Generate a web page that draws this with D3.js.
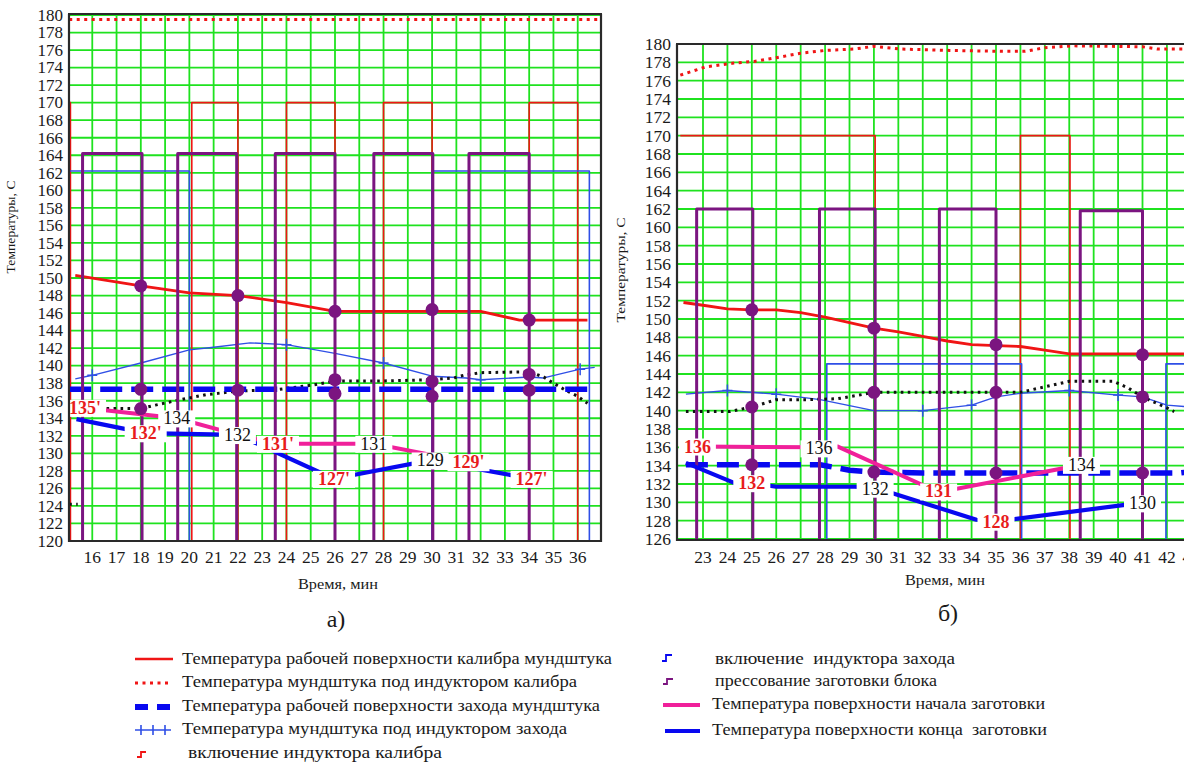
<!DOCTYPE html>
<html><head><meta charset="utf-8">
<script src="https://cdn.jsdelivr.net/npm/d3@7"></script>
<style>
body{margin:0;background:#fff}
svg{display:block}
svg text{font-family:"Liberation Serif","Tinos","Times New Roman","DejaVu Serif",serif;white-space:pre}
</style>
</head><body>
<svg id="c" width="1184" height="767" font-family="Liberation Serif, Tinos, Times New Roman, DejaVu Serif, serif"></svg>
<script>
// ================= DATA =================
// ---- panel а) ----
const xTicksA = [16,17,18,19,20,21,22,23,24,25,26,27,28,29,30,31,32,33,34,35,36];
const yTicksA = [120,122,124,126,128,130,132,134,136,138,140,142,144,146,148,150,152,154,156,158,160,162,164,166,168,170,172,174,176,178,180];

const tA_calibr = [15.3, 18, 20, 22, 24, 26, 28, 30, 32, 33.6, 34, 36.4];
const vA_calibr = [150.3, 149.1, 148.3, 148, 147.2, 146.2, 146.2, 146.2, 146.2, 145.2, 145.2, 145.2];

const tA_indK = [15.05, 36.9];
const vA_indK = [179.5, 179.5];

const tA_surfZ = [15.05, 36.5];
const vA_surfZ = [137.3, 137.3];

const tA_indZ = [15.3, 16, 18, 20, 21, 22.5, 24, 26, 28, 30, 31.4, 32, 34, 34.6, 36.1, 36.7];
const vA_indZ = [138.5, 138.9, 140.3, 141.8, 142.1, 142.6, 142.4, 141.4, 140.3, 138.8, 138.6, 138.4, 138.7, 138.6, 139.6, 139.8];
const tA_plus = [16, 24, 28, 32, 36.1];
const vA_plus = [138.9, 142.4, 140.3, 138.4, 139.6];

const tA_stepK = [15.05, 15.1, 20.1, 22, 24, 26, 28, 30, 34, 36, 36.9];
const vA_stepK = [170, 118, 170, 118, 170, 118, 170, 118, 170, 118, 118];

const tA_stepZ = [15.05, 20, 30, 36.48, 36.9];
const vA_stepZ = [162.2, 118, 162.2, 118, 118];

const tA_press = [15.05, 15.6, 18.05, 19.52, 21.95, 23.54, 26, 27.6, 30.03, 31.52, 34, 36.9];
const vA_press = [118, 164.2, 118, 164.2, 118, 164.2, 118, 164.2, 118, 164.2, 118, 118];

const tA_black = [16.3, 17.1, 18, 18.6, 19.6, 20.7, 22, 23.7, 25.1, 26, 27.9, 30, 30.9, 31.3, 32, 34, 34.6, 35, 35.5, 36, 36.4];
const vA_black = [135.1, 135.1, 135.1, 135.5, 136.1, 136.7, 137.1, 137.3, 137.8, 138.25, 138.25, 138.4, 138.6, 138.9, 139.2, 139.3, 138.7, 138, 137.2, 136.5, 135.7];
const tA_blackStub = [15.05, 15.4];
const vA_blackStub = [124.2, 124.2];

const tA_pressDots = [18, 18, 18, 22, 22, 26, 26, 26, 30, 30, 30, 34, 34, 34];
const vA_pressDots = [149.1, 137.3, 135.1, 148, 137.2, 146.2, 138.4, 136.8, 146.4, 138.2, 136.5, 145.2, 139, 137.2];

const tA_start = [15.6, 19.5, 22, 23.65, 27.6, 31.5];
const vA_start = [135.2, 134, 132.1, 131.1, 131.1, 129];
const tA_end = [15.35, 18.2, 22, 25.95, 29.9, 34.1];
const vA_end = [133.9, 132.3, 132.1, 127.1, 129.2, 127.1];

const labA_text = ["135'", "134", "132'", "132", "131'", "131", "127'", "129", "129'", "127'"];
const labA_t    = [15.7, 19.48, 18.2, 21.98, 23.65, 27.6, 25.96, 29.92, 31.5, 34.1];
const labA_v    = [135.2, 134, 132.3, 132.1, 131.1, 131.1, 127.1, 129.2, 129, 127.1];
const labA_red  = [1, 0, 1, 0, 1, 0, 1, 0, 1, 1];

// ---- panel б) ----
const xTicksB = [23,24,25,26,27,28,29,30,31,32,33,34,35,36,37,38,39,40,41,42,43];
const yTicksB = [126,128,130,132,134,136,138,140,142,144,146,148,150,152,154,156,158,160,162,164,166,168,170,172,174,176,178,180];

const tB_calibr = [22.2, 23, 24, 25, 26, 27, 28, 29, 30, 31, 32, 33, 34, 35, 36, 37, 38, 43.5];
const vB_calibr = [151.8, 151.5, 151.1, 151, 151, 150.7, 150.2, 149.6, 149, 148.6, 148.1, 147.6, 147.2, 147.1, 147, 146.6, 146.2, 146.2];

const tB_indK = [22.07, 23.1, 24.2, 25.1, 26, 27, 28, 29.2, 30, 31.1, 33.1, 35.2, 36.2, 37, 38.2, 41, 41.6, 43.5];
const vB_indK = [176.6, 177.5, 177.9, 178.1, 178.5, 179, 179.3, 179.45, 179.75, 179.45, 179.3, 179.2, 179.2, 179.6, 179.8, 179.7, 179.45, 179.45];

const tB_surfZ = [22.3, 27.8, 29, 30, 32, 42.5, 43.5];
const vB_surfZ = [134.1, 134.1, 133.5, 133.3, 133.2, 133.2, 133.5];

const tB_indZ = [22.3, 24, 26, 27.8, 30, 32, 34, 35, 36, 38, 40, 41, 42, 43.5];
const vB_indZ = [141.8, 142.2, 141.8, 141.2, 140, 140, 140.6, 141.5, 141.9, 142.2, 141.7, 141.5, 140.6, 140.3];
const tB_plus = [24, 26, 32, 34, 38, 40];
const vB_plus = [142.2, 141.8, 140, 140.6, 142.2, 141.7];

const tB_stepK = [22.07, 30.05, 36, 38.03, 43.5];
const vB_stepK = [170, 118, 170, 118, 118];

const tB_stepZ = [22.07, 28.07, 36.05, 41.96, 43.5];
const vB_stepZ = [118, 145.1, 118, 145.1, 145.1];

const tB_press = [22.07, 22.74, 25.04, 27.77, 30.05, 32.68, 35, 38.45, 41, 43.5];
const vB_press = [118, 162, 118, 162, 118, 162, 118, 161.8, 118, 118];

const tB_black = [22.3, 24.1, 25, 26, 27.3, 28.5, 29.4, 30, 36, 36.5, 38, 39.8, 40.4, 41, 42, 42.3];
const vB_black = [139.9, 139.9, 140.4, 141.2, 141.2, 141.3, 141.7, 142, 142, 142.3, 143.2, 143.2, 142.5, 141.5, 140.3, 139.9];
const tB_blackStub = [];
const vB_blackStub = [];

const tB_pressDots = [25, 25, 25, 30, 30, 30, 35, 35, 35, 41, 41, 41];
const vB_pressDots = [151, 140.4, 134.1, 149, 142, 133.3, 147.2, 142, 133.2, 146.1, 141.5, 133.2];

const tB_start = [22.77, 27.75, 28.5, 32.65, 38.5];
const vB_start = [136.1, 136, 136.1, 131.1, 134.1];
const tB_end = [22.3, 24.3, 25, 26, 29.2, 30.05, 34.2, 35, 40.2, 41];
const vB_end = [134.3, 132.1, 132.1, 131.7, 131.7, 131.6, 128.1, 127.9, 129.7, 129.9];

const labB_text = ["136", "136", "132", "132", "131", "128", "134", "130"];
const labB_t    = [22.77, 27.75, 25, 30.05, 32.65, 35, 38.5, 41];
const labB_v    = [136.1, 135.9, 132.1, 131.5, 131.2, 127.9, 134.1, 129.9];
const labB_red  = [1, 0, 1, 0, 1, 1, 0, 0];

// ---- texts ----
const yTitle = "Температуры, С";
const xTitle = "Время, мин";
const panelNames = ["а)", "б)"];
const legendA = ["Температура рабочей поверхности калибра мундштука",
                 "Температура мундштука под индуктором калибра",
                 "Температура рабочей поверхности захода мундштука",
                 "Температура мундштука под индуктором захода",
                 "включение индуктора калибра"];
const legendB = ["включение  индуктора захода",
                 "прессование заготовки блока",
                 "Температура поверхности начала заготовки",
                 "Температура поверхности конца  заготовки"];

// ================= STYLE =================
const FONT = "Liberation Serif, Tinos, Times New Roman, DejaVu Serif, serif";
const C = {
  green: "#1fe21f", red: "#f01515", redLab: "#e81c1c", purple: "#7b1580",
  blueThin: "#2f4fe6", blueThick: "#0808f0", magenta: "#f0209a", axis: "#2a2a2a", txt: "#1a1a1a"
};
const svg = d3.select("#c");
const defs = svg.append("defs");
const pts = (t, v) => t.map((d, i) => [d, v[i]]);

function panel(id, P, D) {
  const x = d3.scaleLinear().domain(P.xd).range(P.xr);
  const y = d3.scaleLinear().domain(P.yd).range(P.yr);
  defs.append("clipPath").attr("id", id).append("rect")
    .attr("x", P.cx0).attr("y", P.cy0).attr("width", P.cx1 - P.cx0).attr("height", P.cy1 - P.cy0);
  const g = svg.append("g").attr("font-family", FONT);
  const pg = g.append("g").attr("clip-path", `url(#${id})`);
  const line = d3.line().x(d => x(d[0])).y(d => y(d[1]));
  const step = d3.line().x(d => x(d[0])).y(d => y(d[1])).curve(d3.curveStepAfter);

  // grid
  pg.selectAll("line.gx").data(D.xTicks).join("line").attr("class", "gx")
    .attr("x1", d => x(d)).attr("x2", d => x(d)).attr("y1", P.cy0).attr("y2", P.cy1)
    .attr("stroke", C.green).attr("stroke-width", 1.8);
  pg.selectAll("line.gy").data(D.yTicks).join("line").attr("class", "gy")
    .attr("x1", P.cx0).attr("x2", P.cx1).attr("y1", d => y(d)).attr("y2", d => y(d))
    .attr("stroke", C.green).attr("stroke-width", 1.8);

  const path = (data, gen, stroke, w, dash, cap) => pg.append("path").datum(data).attr("d", gen)
    .attr("fill", "none").attr("stroke", stroke).attr("stroke-width", w)
    .attr("stroke-dasharray", dash || null).attr("stroke-linecap", cap || "butt").attr("stroke-linejoin", "round");

  path(pts(D.tStepK, D.vStepK), step, C.red, 1.6);
  path(pts(D.tStepZ, D.vStepZ), step, C.blueThin, 1.6);
  path(pts(D.tIndK, D.vIndK), line, C.red, 3, "3,4.5");
  path(pts(D.tCal, D.vCal), line, C.red, 2.8);
  path(pts(D.tIndZ, D.vIndZ), line, C.blueThin, 1.4);
  pg.selectAll("path.plus").data(pts(D.tPlus, D.vPlus)).join("path").attr("class", "plus")
    .attr("d", d => `M${x(d[0]) - 5},${y(d[1])}h10M${x(d[0])},${y(d[1]) - 6}v12`)
    .attr("stroke", C.blueThin).attr("stroke-width", 1.5).attr("fill", "none");
  path(pts(D.tBlack, D.vBlack), line, "#111", 3, "2.6,4.4");
  if (D.tStub.length) path(pts(D.tStub, D.vStub), line, "#111", 3, "2.6,4.4");
  path(pts(D.tSurfZ, D.vSurfZ), line, C.blueThick, 5.5, "22,9");
  path(pts(D.tPress, D.vPress), step, C.purple, 3);
  path(pts(D.tStart, D.vStart), line, C.magenta, 4);
  path(pts(D.tEnd, D.vEnd), line, C.blueThick, 4.2);
  pg.selectAll("circle.pd").data(pts(D.tDots, D.vDots)).join("circle").attr("class", "pd")
    .attr("cx", d => x(d[0])).attr("cy", d => y(d[1])).attr("r", 6.5).attr("fill", C.purple);

  // labels with white background
  D.labText.forEach((s, i) => {
    const lg = pg.append("g");
    const r = lg.append("rect").attr("fill", "#fff");
    const t = lg.append("text").text(s).attr("x", x(D.labT[i])).attr("y", y(D.labV[i]))
      .attr("dy", "0.34em").attr("text-anchor", "middle").attr("font-size", 18)
      .attr("font-weight", D.labRed[i] ? "bold" : "normal")
      .attr("fill", D.labRed[i] ? C.redLab : "#111");
    const b = t.node().getBBox();
    r.attr("x", b.x - 5).attr("y", b.y + 2).attr("width", b.width + 10).attr("height", b.height - 3);
  });

  // axes / frame
  const fr = g.append("g").attr("stroke", C.axis).attr("stroke-width", 2.2).attr("fill", "none");
  fr.append("line").attr("x1", P.cx0).attr("x2", P.cx0).attr("y1", P.cy0).attr("y2", P.cy1 + 1);
  fr.append("line").attr("x1", P.cx0 - 1).attr("x2", P.cx1 + 1).attr("y1", P.cy1).attr("y2", P.cy1);
  fr.append("line").attr("x1", P.cx0 - 1).attr("x2", P.cx1 + 1).attr("y1", P.cy0).attr("y2", P.cy0);
  if (P.rightBorder) fr.append("line").attr("x1", P.cx1).attr("x2", P.cx1).attr("y1", P.cy0).attr("y2", P.cy1 + 1);

  // tick labels
  g.selectAll("text.yt").data(D.yTicks).join("text").attr("class", "yt")
    .attr("x", P.cx0 - 6).attr("y", d => y(d)).attr("dy", "0.34em").attr("text-anchor", "end")
    .attr("font-size", P.tickFs).attr("fill", C.txt).text(d => d);
  g.selectAll("text.xt").data(D.xTicks).join("text").attr("class", "xt")
    .attr("x", d => x(d)).attr("y", 563).attr("text-anchor", "middle")
    .attr("font-size", 17.5).attr("fill", C.txt).text(d => d);

  // titles
  g.append("text").attr("transform", `translate(${P.ytx},${P.yty}) rotate(-90)`)
    .attr("text-anchor", "middle").attr("font-size", 13).attr("fill", C.txt)
    .attr("textLength", P.ytLen).attr("lengthAdjust", "spacingAndGlyphs").text(yTitle);
  g.append("text").attr("x", P.xtx).attr("y", P.xty).attr("text-anchor", "middle")
    .attr("font-size", 14).attr("fill", C.txt).attr("textLength", 80).attr("lengthAdjust", "spacingAndGlyphs").text(xTitle);
  g.append("text").attr("x", P.px).attr("y", P.py).attr("text-anchor", "middle")
    .attr("font-size", 24).attr("fill", C.txt).text(P.name);
}

panel("clipA",
  { xd: [15, 37], xr: [68, 602], yd: [120, 180], yr: [541, 15], cx0: 69, cx1: 601, cy0: 14, cy1: 541, tickFs: 17,
    rightBorder: true, ytx: 15, yty: 227, ytLen: 93, xtx: 338, xty: 589, px: 336, py: 627, name: panelNames[0] },
  { xTicks: xTicksA, yTicks: yTicksA, tCal: tA_calibr, vCal: vA_calibr, tIndK: tA_indK, vIndK: vA_indK,
    tSurfZ: tA_surfZ, vSurfZ: vA_surfZ, tIndZ: tA_indZ, vIndZ: vA_indZ, tPlus: tA_plus, vPlus: vA_plus,
    tStepK: tA_stepK, vStepK: vA_stepK, tStepZ: tA_stepZ, vStepZ: vA_stepZ, tPress: tA_press, vPress: vA_press,
    tBlack: tA_black, vBlack: vA_black, tStub: tA_blackStub, vStub: vA_blackStub, tDots: tA_pressDots, vDots: vA_pressDots,
    tStart: tA_start, vStart: vA_start, tEnd: tA_end, vEnd: vA_end,
    labText: labA_text, labT: labA_t, labV: labA_v, labRed: labA_red });

panel("clipB",
  { xd: [23, 35], xr: [703, 996], yd: [126, 180], yr: [539, 44], cx0: 677, cx1: 1190, cy0: 44, cy1: 540, tickFs: 17.5,
    rightBorder: false, ytx: 625, yty: 270, ytLen: 105, xtx: 945, xty: 585, px: 948, py: 621, name: panelNames[1] },
  { xTicks: xTicksB, yTicks: yTicksB, tCal: tB_calibr, vCal: vB_calibr, tIndK: tB_indK, vIndK: vB_indK,
    tSurfZ: tB_surfZ, vSurfZ: vB_surfZ, tIndZ: tB_indZ, vIndZ: vB_indZ, tPlus: tB_plus, vPlus: vB_plus,
    tStepK: tB_stepK, vStepK: vB_stepK, tStepZ: tB_stepZ, vStepZ: vB_stepZ, tPress: tB_press, vPress: vB_press,
    tBlack: tB_black, vBlack: vB_black, tStub: tB_blackStub, vStub: vB_blackStub, tDots: tB_pressDots, vDots: vB_pressDots,
    tStart: tB_start, vStart: vB_start, tEnd: tB_end, vEnd: vB_end,
    labText: labB_text, labT: labB_t, labV: labB_v, labRed: labB_red });

// ================= LEGEND =================
const lg = svg.append("g").attr("font-family", FONT);
const legA = { x: [182, 182, 182, 182, 188], y: [664, 687, 711, 734, 758], w: [430, 395, 418, 385, 254] };
const legB = { x: [715, 715, 712, 712], y: [664, 686, 709, 735], w: [240, 222, 333, 335] };
legendA.forEach((s, i) => lg.append("text").attr("x", legA.x[i]).attr("y", legA.y[i]).attr("font-size", 16)
  .attr("fill", C.txt).attr("textLength", legA.w[i]).attr("lengthAdjust", "spacingAndGlyphs").text(s));
legendB.forEach((s, i) => lg.append("text").attr("x", legB.x[i]).attr("y", legB.y[i]).attr("font-size", 16)
  .attr("fill", C.txt).attr("textLength", legB.w[i]).attr("lengthAdjust", "spacingAndGlyphs").text(s));
// samples
lg.append("line").attr("x1", 135).attr("x2", 173).attr("y1", 659).attr("y2", 659).attr("stroke", C.red).attr("stroke-width", 2.5);
lg.append("line").attr("x1", 135).attr("x2", 172).attr("y1", 683).attr("y2", 683).attr("stroke", C.red).attr("stroke-width", 3).attr("stroke-dasharray", "3,4.5");
lg.append("line").attr("x1", 135).attr("x2", 171).attr("y1", 707).attr("y2", 707).attr("stroke", C.blueThick).attr("stroke-width", 6).attr("stroke-dasharray", "13,9");
lg.append("path").attr("d", "M135,730h36M141,725v10M153,725v10M165,725v10").attr("stroke", C.blueThin).attr("stroke-width", 1.6).attr("fill", "none");
lg.append("path").attr("d", "M137,757h4v-5h5").attr("stroke", C.red).attr("stroke-width", 1.8).attr("fill", "none");
lg.append("path").attr("d", "M662,661h4v-6h6").attr("stroke", C.blueThick).attr("stroke-width", 1.8).attr("fill", "none");
lg.append("path").attr("d", "M663,684h4v-5h6").attr("stroke", C.purple).attr("stroke-width", 1.8).attr("fill", "none");
lg.append("line").attr("x1", 663).attr("x2", 700).attr("y1", 705).attr("y2", 705).attr("stroke", C.magenta).attr("stroke-width", 4);
lg.append("line").attr("x1", 665).attr("x2", 700).attr("y1", 731).attr("y2", 731).attr("stroke", C.blueThick).attr("stroke-width", 4);
</script>
</body></html>
